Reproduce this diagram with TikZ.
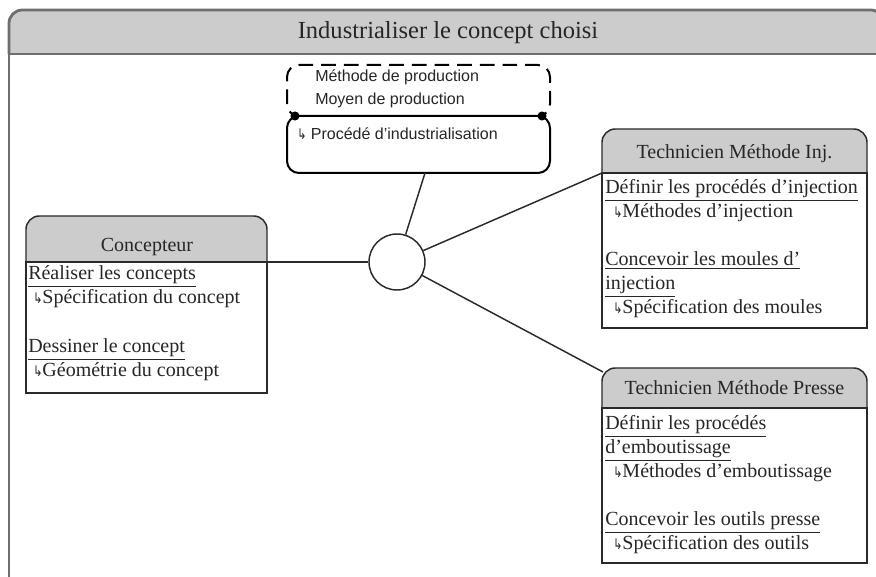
\documentclass[tikz,border=0pt]{standalone}
\usepackage{fontspec}
\usepackage{graphicx}
\setmainfont{Liberation Serif}
\newfontfamily\arialf{Liberation Sans}
\newfontfamily\symf{DejaVu Sans}
\usetikzlibrary{fit}
\newcommand{\hooksym}{\raisebox{0.3pt}{\scalebox{0.75}[1]{\symf\fontsize{11}{11}\selectfont ↳}}}
\definecolor{hdr}{HTML}{CCCCCC}
\definecolor{frm}{HTML}{6E6E6E}
\definecolor{bln}{HTML}{2A2A2A}
\begin{document}
\begin{tikzpicture}[x=0.75pt,y=-0.75pt,
  frameline/.style={draw=frm, line width=2.1pt},
  boxline/.style={draw=bln, line width=1.1pt},
  conn/.style={draw=bln, line width=1.1pt},
  prodline/.style={draw=black, line width=1.5pt},
  proddash/.style={draw=black, line width=1.5pt, dash pattern=on 11pt off 6pt},
  maintitle/.style={font=\fontsize{18.4}{22}\selectfont, inner sep=0, anchor=base, text=black!85},
  boxtitle/.style={font=\fontsize{15}{18}\selectfont, inner sep=0, anchor=base, text=black!85},
  item/.style={font=\fontsize{15}{18}\selectfont, inner sep=0, anchor=base west, text=black!85},
  sansitem/.style={font=\arialf\fontsize{12}{14}\selectfont, inner sep=0, anchor=base west, text=black!85},
  area/.style={inner sep=0, draw=none}]
\useasboundingbox (0,0) rectangle (876,577);

% outer frame
\filldraw[frameline, fill=hdr, rounded corners=10] (9,54) -- (9,10) -- (884,10) -- (884,54);
\draw[frameline] (884,54) -- (9,54) -- (9,582);
\node[maintitle] (title) at (448,39) {Industrialiser le concept choisi};

% production box (top)
\draw[proddash, rounded corners=9] (295,116) -- (287,116) -- (287,65) -- (550,65) -- (550,116) -- (542,116);
\draw[prodline, rounded corners=9] (287,116) rectangle (550,173);
\fill (295,116) circle[radius=3.4pt];
\fill (542,116) circle[radius=3.4pt];
\node[area, fit={(287,65) (550,173)}] (prod) {};
\node[sansitem] (pm1) at (315,82) {Méthode de production};
\node[sansitem] (pm2) at (315,105) {Moyen de production};
\node[sansitem] (pm3) at (297,140) {\hooksym\ Procédé d’industrialisation};
\coordinate (prodS) at (425,173);

% hub
\node[circle, draw=bln, line width=1.1pt, minimum size=42pt, inner sep=0] (hub) at (397,262) {};

% Concepteur
\filldraw[boxline, fill=hdr, rounded corners=10] (26,262) -- (26,216) -- (267,216) -- (267,262);
\draw[boxline] (26,262) rectangle (267,393);
\node[area, fit={(26,216) (267,393)}] (conc) {};
\node[boxtitle] (concT) at (147,252) {Concepteur};
\node[item] (c1) at (28,280) {\underline{Réaliser les concepts}};
\node[item] (c2) at (33,304) {\hooksym Spécification du concept};
\node[item] (c3) at (28,353) {\underline{Dessiner le concept}};
\node[item] (c4) at (33,377) {\hooksym Géométrie du concept};
\coordinate (concE) at (227,262);

% Technicien Methode Inj.
\filldraw[boxline, fill=hdr, rounded corners=10] (602,173) -- (602,129) -- (867,129) -- (867,173);
\draw[boxline] (602,173) rectangle (867,328);
\node[area, fit={(602,129) (867,328)}] (inj) {};
\node[boxtitle] (injT) at (734.5,159) {Technicien Méthode Inj.};
\node[item] (i1) at (605,194) {\underline{Définir les procédés d’injection}};
\node[item] (i2) at (613,218) {\hooksym Méthodes d’injection};
\node[item] (i3) at (605,266) {\underline{Concevoir les moules d’}};
\node[item] (i4) at (605,290) {\underline{injection}};
\node[item] (i5) at (613,314) {\hooksym Spécification des moules};
\coordinate (injC) at (602,173);

% Technicien Methode Presse
\filldraw[boxline, fill=hdr, rounded corners=10] (602,408) -- (602,368) -- (867,368) -- (867,408);
\draw[boxline] (602,408) rectangle (867,563);
\node[area, fit={(602,368) (867,563)}] (pre) {};
\node[boxtitle] (preT) at (734.5,395) {Technicien Méthode Presse};
\node[item] (p1) at (605,430) {\underline{Définir les procédés}};
\node[item] (p2) at (605,454) {\underline{d’emboutissage}};
\node[item] (p3) at (613,478) {\hooksym Méthodes d’emboutissage};
\node[item] (p4) at (605,526) {\underline{Concevoir les outils presse}};
\node[item] (p5) at (613,550) {\hooksym Spécification des outils};
\coordinate (preC) at (603,372);

% connectors
\draw[conn] (prodS) -- (hub);
\draw[conn] (hub) -- (concE);
\draw[conn] (hub) -- (injC);
\draw[conn] (hub) -- (preC);
\end{tikzpicture}
\end{document}
